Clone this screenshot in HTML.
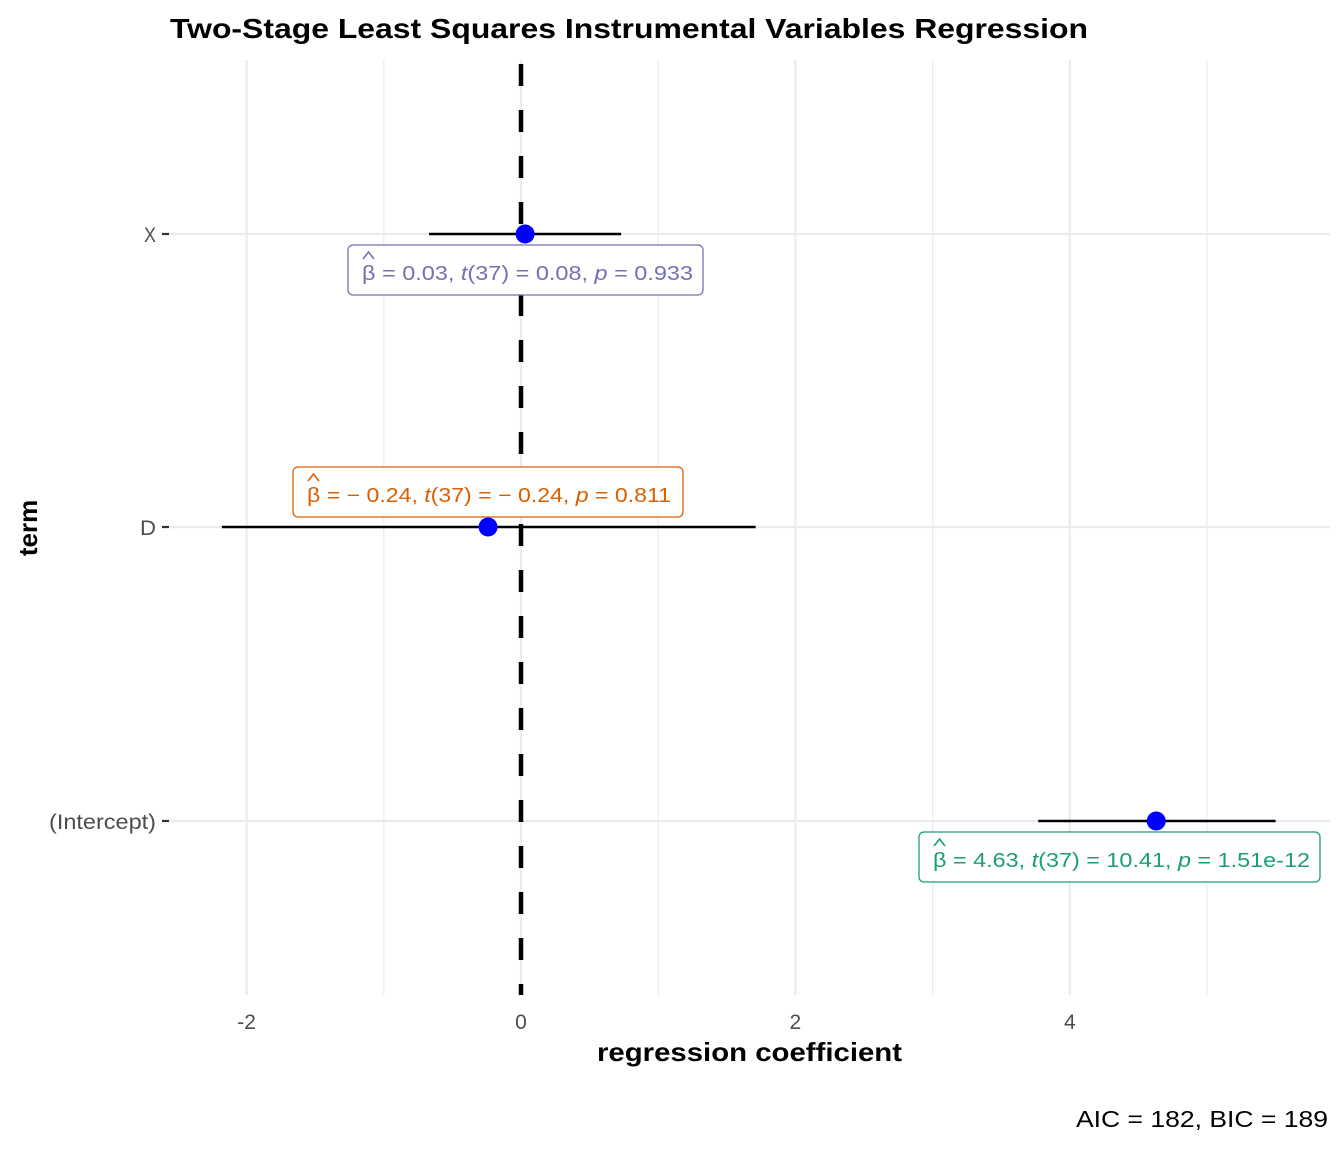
<!DOCTYPE html>
<html><head><meta charset="utf-8"><style>
body{margin:0;background:#fff;}
svg text{font-family:"Liberation Sans",sans-serif;}
</style></head><body>
<svg id="chart" width="1344" height="1152" xmlns="http://www.w3.org/2000/svg">
<text x="170" y="38" font-size="28" font-weight="bold" fill="#000" textLength="918" lengthAdjust="spacingAndGlyphs">Two-Stage Least Squares Instrumental Variables Regression</text>
<g id="grid"></g>
<g id="marks"></g>
<text x="597" y="1061" font-size="26" font-weight="bold" textLength="305" lengthAdjust="spacingAndGlyphs">regression coefficient</text>
<text transform="translate(37,528) rotate(-90)" font-size="26" font-weight="bold" text-anchor="middle">term</text>
<text x="1076" y="1127" font-size="23" textLength="252" lengthAdjust="spacingAndGlyphs">AIC = 182, BIC = 189</text>
</svg>
<script>
const terms = ["X","D","(Intercept)"];
const estimates = [0.03,-0.24,4.63];
const ciLow = [-0.67,-2.18,3.77];
const ciHigh = [0.73,1.71,5.50];
const labelTexts = [
 ["0.03","0.08","0.933"],
 ["\u2212 0.24","\u2212 0.24","0.811"],
 ["4.63","10.41","1.51e-12"]
];
const xTicks = [-2,0,2,4];
const colors = ["#7570B3","#D95F02","#1B9E77"];
const NS="http://www.w3.org/2000/svg";
const x = v => 521 + v*137.2;
const yPos = [234,527,821];
const y = i => yPos[i];
const grid=document.getElementById('grid'), marks=document.getElementById('marks');
function mk(tag,attrs,parent){const e=document.createElementNS(NS,tag);for(const k in attrs)e.setAttribute(k,attrs[k]);parent.appendChild(e);return e;}
for(let v=-1;v<=5;v+=2){const l=mk('line',{x1:x(v),x2:x(v),y1:60,y2:995,stroke:'#ebebeb','stroke-width':1.2},grid);

}
xTicks.forEach(v=>{const l=mk('line',{x1:x(v),x2:x(v),y1:60,y2:995,stroke:'#ebebeb','stroke-width':2.2},grid);


const t=mk('text',{x:x(v),y:1029,'font-size':21,fill:'#4d4d4d','text-anchor':'middle'},grid);t.textContent=v;

});
const tickW=[12,16,107];
terms.forEach((tm,i)=>{const l=mk('line',{x1:162,x2:1330,y1:y(i),y2:y(i),stroke:'#ebebeb','stroke-width':2.2},grid);


mk('line',{x1:162,x2:169,y1:y(i),y2:y(i),stroke:'#333','stroke-width':2.2},grid);
const t=mk('text',{x:156-tickW[i],y:y(i)+8,'font-size':21,fill:'#4d4d4d',textLength:tickW[i],lengthAdjust:'spacingAndGlyphs'},grid);t.textContent=tm;

});
const z=mk('line',{x1:x(0),x2:x(0),y1:64,y2:995,stroke:'#000','stroke-width':4.5,'stroke-dasharray':'22,24'},marks);


const boxes=[[348,245,355,331],[293,467,390,364],[919,832,401,377]];
terms.forEach((tm,i)=>{
 const l=mk('line',{x1:x(ciLow[i]),x2:x(ciHigh[i]),y1:y(i),y2:y(i),stroke:'#000','stroke-width':2.5},marks);
 
 
 const c=mk('circle',{cx:x(estimates[i]),cy:y(i),r:9.5,fill:'#0000ff'},marks);
 
 
 const g=mk('g',{},marks);
 
 
 const [bx,by,bw,tw]=boxes[i];
 mk('rect',{x:bx,y:by,width:bw,height:50,rx:5,fill:'#fff',stroke:colors[i],'stroke-width':1.3},g);
 const t=mk('text',{x:bx+14,y:by+35,'font-size':20,fill:colors[i],textLength:tw,lengthAdjust:'spacingAndGlyphs'},g);
 const lt=labelTexts[i];
 t.innerHTML='\u03B2 = '+lt[0]+',  <tspan font-style="italic">t</tspan>(37) = '+lt[1]+',  <tspan font-style="italic">p</tspan> = '+lt[2];
 mk('path',{d:`M${bx+15} ${by+14} L${bx+20.5} ${by+7} L${bx+26} ${by+14}`,fill:'none',stroke:colors[i],'stroke-width':1.6},g);
});
</script>
</body></html>
